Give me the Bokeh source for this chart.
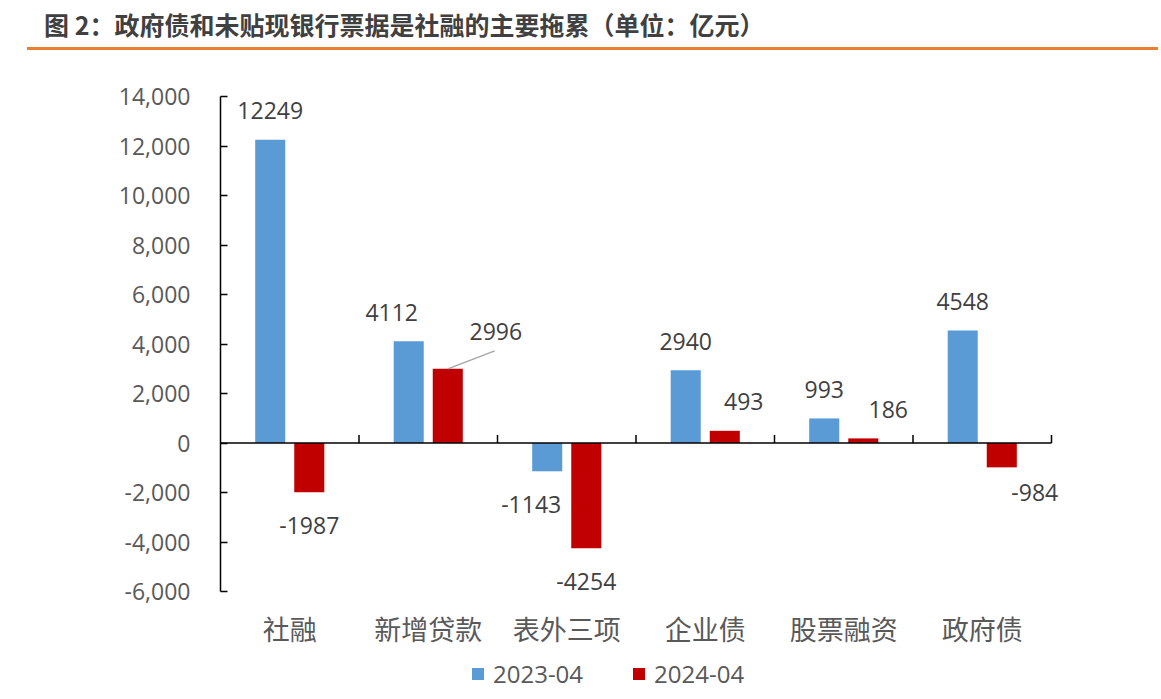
from bokeh.plotting import figure
from bokeh.models import (ColumnDataSource, Range1d, FixedTicker, NumeralTickFormatter,
                          Legend, LegendItem, Div)
from bokeh.layouts import column
from bokeh.embed import file_html
from bokeh.resources import INLINE
from bokeh.core.properties import value

# ---------------- data ----------------
title_text = "图 2：政府债和未贴现银行票据是社融的主要拖累（单位：亿元）"
categories = ["社融", "新增贷款", "表外三项", "企业债", "股票融资", "政府债"]
series_names = ["2023-04", "2024-04"]
values_2023 = [12249, 4112, -1143, 2940, 993, 4548]
values_2024 = [-1987, 2996, -4254, 493, 186, -984]
y_ticks = [-6000, -4000, -2000, 0, 2000, 4000, 6000, 8000, 10000, 12000, 14000]

# ---------------- style ----------------
BLUE = "#5B9BD5"
RED = "#C00000"
ORANGE = "#ED7D31"
TXT = "#595959"
LBL = "#404040"
CJK = "Noto Sans CJK SC"
NUM = "Open Sans"

W = 1158
H_DIV = 80
AXIS_W = 831          # px spanned by the six categories
AXIS_H = 495          # px spanned by the y ticks
PAD_R = 20            # extra room right of the axis for labels
PAD_B = 10            # extra room below the axis for labels
B_L, B_T, B_B = 220, 16, 54
B_R = W - B_L - AXIS_W - PAD_R
frame_h = AXIS_H + PAD_B
H_FIG = B_T + frame_h + B_B
H_LEG = 41

y_min, y_max = y_ticks[0], y_ticks[-1]
n = len(categories)
dx_px = n / AXIS_W                  # data units per pixel (x)
dy_px = (y_max - y_min) / AXIS_H    # data units per pixel (y)

bar_w = 0.217
dodge = 0.141
# label nudges in pixels (manual placement as in the original)
nudge_x_23 = [0, -17, -16, 0, 0, 0]
nudge_y_23 = [0, 0, 0, 0, 0, 0]
nudge_x_24 = [0, 48, 0, 19, 25, 33]
nudge_y_24 = [0, -8, 0, 0, 0, -8]
ABOVE, BELOW = -29, 33

x_23 = [i + 0.5 - dodge for i in range(n)]
x_24 = [i + 0.5 + dodge for i in range(n)]


def label_offsets(vals, ny):
    return [(ABOVE if v >= 0 else BELOW) + d for v, d in zip(vals, ny)]


src_23 = ColumnDataSource(dict(x=x_23, top=values_2023, txt=[str(v) for v in values_2023],
                               xo=nudge_x_23, yo=label_offsets(values_2023, nudge_y_23)))
src_24 = ColumnDataSource(dict(x=x_24, top=values_2024, txt=[str(v) for v in values_2024],
                               xo=nudge_x_24, yo=label_offsets(values_2024, nudge_y_24)))

p = figure(width=W, height=H_FIG, output_backend="svg", toolbar_location=None,
           x_range=Range1d(0, n + PAD_R * dx_px),
           y_range=Range1d(y_min - PAD_B * dy_px, y_max),
           min_border_left=B_L, min_border_right=B_R, min_border_top=B_T,
           min_border_bottom=B_B, outline_line_color=None, margin=(0, 0, 0, 0))
p.xgrid.visible = False
p.ygrid.visible = False

r23 = p.vbar(x="x", top="top", bottom=0, width=bar_w, source=src_23,
             fill_color=BLUE, line_color=None)
r24 = p.vbar(x="x", top="top", bottom=0, width=bar_w, source=src_24,
             fill_color=RED, line_color=None)

# zero line and category boundary ticks
p.segment(x0=[0], y0=[0], x1=[n], y1=[0], line_color="black", line_width=1.5)
bx = list(range(1, n + 1))
p.segment(x0=bx, y0=[0] * len(bx), x1=bx, y1=[8 * dy_px] * len(bx),
          line_color="black", line_width=1.5)

# leader line for the moved 2996 label
i = 1
p.segment(x0=[x_24[i]], y0=[values_2024[i]],
          x1=[x_24[i] + 47 * dx_px], y1=[values_2024[i] + 18 * dy_px],
          line_color="#A6A6A6", line_width=1.5)

for s in (src_23, src_24):
    p.text(x="x", y="top", text="txt", x_offset="xo", y_offset="yo", source=s,
           text_align="center", text_baseline="middle",
           text_font=value(NUM), text_font_size="23px", text_color=LBL)

# y axis
ya = p.yaxis[0]
ya.ticker = FixedTicker(ticks=y_ticks)
ya.formatter = NumeralTickFormatter(format="0,0")
ya.bounds = (y_min, y_max)
ya.major_tick_in = 7
ya.major_tick_out = 0
ya.minor_tick_line_color = None
ya.axis_line_color = "black"
ya.axis_line_width = 1.5
ya.major_tick_line_color = "black"
ya.major_tick_line_width = 1.5
ya.major_label_standoff = 30
ya.major_label_text_font = NUM
ya.major_label_text_font_size = "23px"
ya.major_label_text_color = TXT

# x axis (category labels at bottom)
xa = p.xaxis[0]
centers = [i + 0.5 for i in range(n)]
xa.ticker = FixedTicker(ticks=centers)
xa.major_label_overrides = {c: name for c, name in zip(centers, categories)}
xa.axis_line_color = None
xa.major_tick_line_color = None
xa.minor_tick_line_color = None
xa.major_tick_in = 0
xa.major_tick_out = 0
xa.major_label_standoff = 7
xa.major_label_text_font = CJK
xa.major_label_text_font_size = "27px"
xa.major_label_text_color = TXT

# legend in its own strip below the chart (frame aligned with the chart's frame)
pl = figure(width=W, height=H_LEG, output_backend="svg", toolbar_location=None,
            x_range=Range1d(0, 1), y_range=Range1d(0, 1), min_border=0,
            outline_line_color=None, margin=(0, 0, 0, 0))
pl.axis.visible = False
pl.xgrid.visible = False
pl.ygrid.visible = False
# zero-height stand-ins that only lend their colours to the legend swatches
d23 = pl.vbar(x=[0.5], top=[0], bottom=0, width=0.1, fill_color=BLUE, line_color=None)
d24 = pl.vbar(x=[0.5], top=[0], bottom=0, width=0.1, fill_color=RED, line_color=None)
legend = Legend(items=[LegendItem(label=series_names[0], renderers=[d23]),
                       LegendItem(label=series_names[1], renderers=[d24])],
                orientation="horizontal", location=(250, 6), padding=0, margin=0,
                spacing=48, glyph_width=15, glyph_height=15, label_standoff=8,
                label_text_font=NUM, label_text_font_size="24px",
                label_text_color=TXT, border_line_color=None,
                background_fill_alpha=0)
pl.add_layout(legend)

title_html = (
    f'<div style="position:relative;width:{W}px;height:{H_DIV}px;">'
    f'<div style="position:absolute;left:44px;top:9px;font-family:\'{CJK}\';'
    f'font-weight:bold;font-size:25px;line-height:30px;color:#404040;white-space:nowrap;">'
    f'{title_text}</div>'
    f'<div style="position:absolute;left:27px;top:47px;width:{W - 27}px;height:3px;'
    f'background:{ORANGE};"></div></div>'
)
div = Div(text=title_html, width=W, height=H_DIV, margin=(0, 0, 0, 0))

layout = column(div, p, pl, spacing=0, margin=(0, 0, 0, 0))
open("out.html", "w").write(file_html(layout, INLINE))
